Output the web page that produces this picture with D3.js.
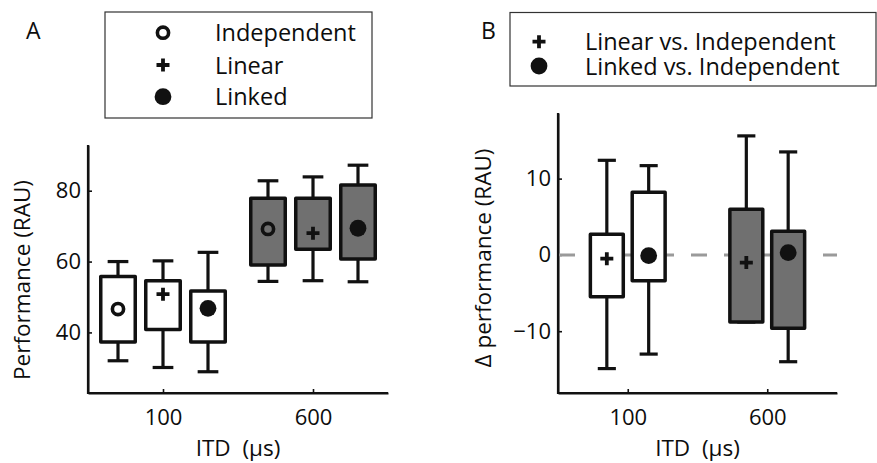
<!DOCTYPE html>
<html>
<head>
<meta charset="utf-8">
<script src="https://cdn.jsdelivr.net/npm/d3@7"></script>
<style>
  html, body { margin: 0; padding: 0; background: #fff; }
  svg text { font-family: "Open Sans", "Noto Sans", sans-serif; fill: #0d0d0d; }
</style>
</head>
<body>
<svg id="fig" width="877" height="463"></svg>
<script>
// ITD conditions on the x axis
const itdLabels = ["100", "600"];

// Panel A: performance (RAU) per processing strategy.
// Each row is one ITD: [whisker low, lower quartile, upper quartile, whisker high, mean]
const independentStats = [[32.0, 37.3, 55.8, 60.0, 46.6], [54.4, 59.0, 77.9, 82.8, 69.2]];
const linearStats      = [[30.1, 40.8, 54.6, 60.2, 50.8], [54.6, 63.5, 77.9, 83.9, 68.0]];
const linkedStats      = [[28.9, 37.3, 51.7, 62.6, 46.8], [54.3, 60.7, 81.6, 87.2, 69.4]];

// Panel B: difference in performance relative to the independent strategy
const linearVsIndStats = [[-14.9, -5.5, 2.7, 12.4, -0.5], [-8.8, -8.8, 6.0, 15.6, -1.0]];
const linkedVsIndStats = [[-13.0, -3.4, 8.2, 11.7, -0.1], [-14.0, -9.6, 3.1, 13.5, 0.3]];

const ticksA = [40, 60, 80];
const ticksB = [-10, 0, 10];

const svg = d3.select("#fig");
const ink = "#111";
const grayFill = "#707070";
const fills = ["#ffffff", grayFill];   // 100 µs boxes white, 600 µs boxes gray
const tickFont = 22;
const titleFont = 22.5;
const legendFont = 23.5;

function markerPath(g, type, x, y) {
  if (type === "circle") {
    g.append("circle").attr("cx", x).attr("cy", y).attr("r", 5.6)
      .attr("fill", "none").attr("stroke", ink).attr("stroke-width", 3.6);
  } else if (type === "plus") {
    const h = 6.5;
    g.append("path")
      .attr("d", `M${x - h},${y}H${x + h}M${x},${y - h}V${y + h}`)
      .attr("stroke", ink).attr("stroke-width", 3.8).attr("fill", "none");
  } else {
    g.append("circle").attr("cx", x).attr("cy", y).attr("r", 8.4).attr("fill", ink);
  }
}

function drawPanel(cfg) {
  const g = svg.append("g");
  const x = d3.scaleLinear().domain([0.5, 2.5]).range([cfg.left, cfg.right]);
  const y = d3.scaleLinear().domain(cfg.yDomain).range([cfg.bottom, cfg.top]);

  // axes
  const yAxis = d3.axisLeft(y).tickValues(cfg.yTicks).tickSizeInner(-4).tickSizeOuter(0).tickPadding(7);
  const xAxis = d3.axisBottom(x).tickValues([1, 2]).tickFormat((d, i) => itdLabels[i])
    .tickSizeInner(-4).tickSizeOuter(0).tickPadding(16);

  const ya = g.append("g").attr("transform", `translate(${cfg.left},0)`).call(yAxis);
  const xa = g.append("g").attr("transform", `translate(0,${cfg.bottom})`).call(xAxis);
  [ya, xa].forEach(a => {
    a.select(".domain").attr("stroke", ink).attr("stroke-width", 2);
    a.selectAll(".tick line").attr("stroke", ink).attr("stroke-width", 1.6);
    a.selectAll("text").attr("font-size", tickFont).attr("fill", "#0d0d0d")
      .style("font-family", '"Open Sans", "Noto Sans", sans-serif');
  });
  // L-shaped frame
  g.append("path").attr("d", `M${cfg.left},${cfg.top}V${cfg.bottom}H${cfg.right}`)
    .attr("fill", "none").attr("stroke", ink).attr("stroke-width", 2.2);

  // zero reference line
  if (cfg.zeroLine) {
    g.append("line").attr("x1", cfg.left + 1).attr("x2", cfg.right)
      .attr("y1", y(0)).attr("y2", y(0))
      .attr("stroke", "#9a9a9a").attr("stroke-width", 3).attr("stroke-dasharray", "16,17");
  }

  const boxW = x(1 + cfg.boxWidth) - x(1);
  const capW = boxW * cfg.capFrac;

  cfg.series.forEach((s, si) => {
    s.stats.forEach((st, ci) => {
      const [lo, q1, q3, hi, mean] = st;
      const cx = x(ci + 1 + cfg.offsets[si]);
      const bg = g.append("g");
      bg.append("line").attr("x1", cx).attr("x2", cx).attr("y1", y(lo)).attr("y2", y(hi))
        .attr("stroke", ink).attr("stroke-width", 3.2);
      [lo, hi].forEach(v => {
        bg.append("line").attr("x1", cx - capW / 2).attr("x2", cx + capW / 2)
          .attr("y1", y(v)).attr("y2", y(v)).attr("stroke", ink).attr("stroke-width", 3.2);
      });
      bg.append("rect").attr("x", cx - boxW / 2).attr("width", boxW)
        .attr("y", y(q3)).attr("height", y(q1) - y(q3))
        .attr("fill", fills[ci]).attr("stroke", ink).attr("stroke-width", 3.5)
        .attr("stroke-linejoin", "round");
      markerPath(bg, s.marker, cx, y(mean));
    });
  });

  // axis titles
  g.append("text").attr("x", (cfg.left + cfg.right) / 2).attr("y", 456)
    .attr("text-anchor", "middle").attr("font-size", titleFont)
    .attr("xml:space", "preserve").text("ITD  (\u03bcs)");
  g.append("text")
    .attr("transform", `translate(${cfg.yTitleX},${cfg.yTitleY}) rotate(-90)`)
    .attr("text-anchor", "middle").attr("font-size", titleFont).text(cfg.yTitle);

  // panel letter
  g.append("text").attr("x", cfg.letterX).attr("y", 39).attr("font-size", 23).text(cfg.letter);

  // legend
  const lg = g.append("g");
  lg.append("rect").attr("x", cfg.legend.x0).attr("y", cfg.legend.y0)
    .attr("width", cfg.legend.x1 - cfg.legend.x0).attr("height", cfg.legend.y1 - cfg.legend.y0)
    .attr("fill", "#fff").attr("stroke", "#333").attr("stroke-width", 1.2);
  cfg.series.forEach((s, i) => {
    const ry = cfg.legend.rows[i];
    markerPath(lg, s.marker, cfg.legend.markerX, ry);
    lg.append("text").attr("x", cfg.legend.textX).attr("y", ry + 8.5)
      .attr("font-size", legendFont).text(s.name);
  });
}

drawPanel({
  letter: "A", letterX: 26,
  left: 88, right: 388, top: 145, bottom: 393,
  yDomain: [22.9, 92.9], yTicks: ticksA,
  yTitle: "Performance (RAU)", yTitleX: 30, yTitleY: 280,
  offsets: [-0.3, 0, 0.3], boxWidth: 0.23, capFrac: 0.6,
  zeroLine: false,
  series: [
    { name: "Independent", marker: "circle", stats: independentStats },
    { name: "Linear", marker: "plus", stats: linearStats },
    { name: "Linked", marker: "dot", stats: linkedStats }
  ],
  legend: { x0: 105, y0: 12, x1: 372, y1: 118, markerX: 163, textX: 215, rows: [32.7, 65, 96.7] }
});

drawPanel({
  letter: "B", letterX: 481,
  left: 558, right: 837, top: 113, bottom: 393,
  yDomain: [-18.1, 18.6], yTicks: ticksB,
  yTitle: "\u0394 performance (RAU)", yTitleX: 491, yTitleY: 258,
  offsets: [-0.15, 0.15], boxWidth: 0.236, capFrac: 0.55,
  zeroLine: true,
  series: [
    { name: "Linear vs. Independent", marker: "plus", stats: linearVsIndStats },
    { name: "Linked vs. Independent", marker: "dot", stats: linkedVsIndStats }
  ],
  legend: { x0: 510, y0: 12.5, x1: 876, y1: 86, markerX: 539, textX: 585, rows: [41.7, 66] }
});
</script>
</body>
</html>
